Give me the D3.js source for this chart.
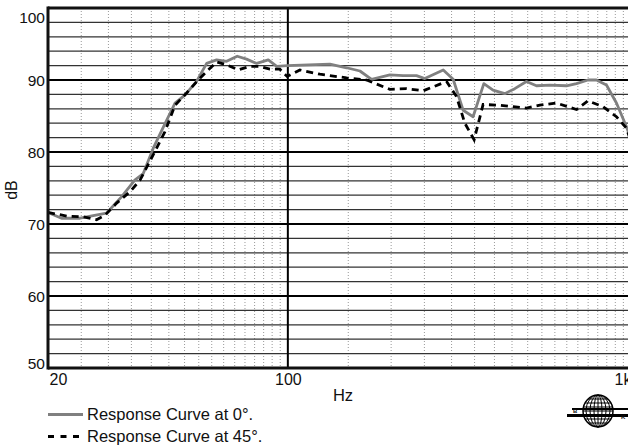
<!DOCTYPE html>
<html>
<head>
<meta charset="utf-8">
<script src="https://cdn.jsdelivr.net/npm/d3@7"></script>
<style>
  body { margin: 0; background: #fff; }
  text { font-family: "Liberation Sans", Arial, sans-serif; fill: #111; }
</style>
</head>
<body>
<svg width="628" height="447"></svg>
<script>
// frequencies (Hz) and levels (dB)
let freq0 = [20, 21.9, 24.8, 29.6, 32.8, 35.8, 37.9, 40.5, 43.4, 46.9, 50.1, 54.2, 58, 62, 66.3, 71.2, 75.8, 81.1, 87.7, 92.8, 99.5,
             132.6, 148.3, 162.2, 175.4, 198.3, 216.8, 237.1, 250.7, 283.7, 303.2, 324.2, 346.6, 372.5, 396.3, 428.7, 458.4,
             495.8, 530.2, 579.9, 648.6, 693.6, 749.6, 793, 848.1, 907, 970, 1000]
let db0 = [71.6, 70.8, 70.8, 71.5, 73.8, 76.1, 77, 80.5, 83.5, 86.8, 87.9, 89.8, 92.3, 92.8, 92.6, 93.3, 92.9, 92.3, 92.8, 91.9, 92,
           92.2, 91.7, 91.25, 90.1, 90.7, 90.6, 90.6, 90.2, 91.4, 90.1, 85.8, 84.9, 89.5, 88.6, 88.1, 88.8,
           89.8, 89.2, 89.3, 89.2, 89.5, 90, 90, 89.3, 86.8, 83.5, 81.8]
let freq45 = [20, 22.7, 25.3, 27.7, 29.3, 31.7, 34.7, 37.1, 40.5, 43.8, 46.9, 50.7, 54.8, 58.6, 62, 66.3, 71.7, 77.5, 82.9, 88.6, 94.8, 99.5,
              108.4, 124, 148.3, 169.7, 198.3, 221.8, 248, 290.1, 310.1, 327.9, 349, 370.7, 414.6, 453.3, 495.8, 542.4, 606.6,
              693.6, 749.6, 829, 907, 970, 1000]
let db45 = [71.6, 71.1, 71, 70.6, 71.2, 72.9, 74.5, 76.1, 79.6, 82.8, 86.5, 88.2, 90, 91.4, 92.5, 92.1, 91.4, 91.9, 91.9, 91.5, 91.5, 90.5,
            91.4, 90.8, 90.3, 90, 88.7, 88.8, 88.5, 89.8, 87.7, 84, 81.7, 86.6, 86.5, 86.3, 86.1, 86.5, 86.8,
            85.9, 87.1, 86.3, 84.9, 83.3, 81.4]
let yTicks = [50, 60, 70, 80, 90, 100]
let xTicks = [20, 100, 1000]
let xTickLabels = ['20', '100', '1k']
let legendLabels = ['Response Curve at 0°.', 'Response Curve at 45°.']

let svg = d3.select('svg')
let plotLeft = 48, plotRight = 631, plotTop = 8, plotBottom = 368

let xScale = d3.scaleLog().domain([20, 1000]).range([plotLeft, plotRight]),
    yScale = d3.scaleLinear().domain([50, 100]).range([plotBottom, plotTop])

// minor vertical grid (dotted)
let minorX = d3.range(25, 100, 5).concat(d3.range(150, 1000, 50))
svg.append('g').selectAll('line')
    .data(minorX)
    .enter()
    .append('line')
    .attr('x1', d => xScale(d)).attr('x2', d => xScale(d))
    .attr('y1', plotTop).attr('y2', plotBottom)
    .attr('stroke', '#999')
    .attr('stroke-width', 1)
    .attr('stroke-dasharray', '1,2')

// horizontal grid every 2 dB, bold every 10
let minorY = d3.range(52, 100, 2).filter(d => d % 10 != 0)
svg.append('g').selectAll('line')
    .data(minorY)
    .enter()
    .append('line')
    .attr('x1', plotLeft).attr('x2', 628)
    .attr('y1', d => yScale(d)).attr('y2', d => yScale(d))
    .attr('stroke', '#333')
    .attr('stroke-width', 1.2)
svg.append('g').selectAll('line')
    .data([60, 70, 80, 90])
    .enter()
    .append('line')
    .attr('x1', plotLeft).attr('x2', 628)
    .attr('y1', d => yScale(d)).attr('y2', d => yScale(d))
    .attr('stroke', '#000')
    .attr('stroke-width', 2)
// bold vertical at 100 Hz
svg.append('line')
    .attr('x1', xScale(100)).attr('x2', xScale(100))
    .attr('y1', plotTop).attr('y2', plotBottom)
    .attr('stroke', '#000')
    .attr('stroke-width', 2)

// curves
let line = d3.line().x(d => xScale(d[0])).y(d => yScale(d[1]))
svg.append('path')
    .datum(d3.zip(freq0, db0))
    .attr('d', line)
    .attr('fill', 'none')
    .attr('stroke', '#808080')
    .attr('stroke-width', 2.8)
    .attr('stroke-linejoin', 'round')
svg.append('path')
    .datum(d3.zip(freq45, db45))
    .attr('d', line)
    .attr('fill', 'none')
    .attr('stroke', '#000')
    .attr('stroke-width', 2.8)
    .attr('stroke-dasharray', '7,5')

// frame
svg.append('line').attr('x1', plotLeft).attr('x2', 628).attr('y1', plotTop).attr('y2', plotTop)
    .attr('stroke', '#111').attr('stroke-width', 3)
svg.append('line').attr('x1', plotLeft).attr('x2', 628).attr('y1', plotBottom).attr('y2', plotBottom)
    .attr('stroke', '#111').attr('stroke-width', 3)
svg.append('line').attr('x1', plotLeft).attr('x2', plotLeft).attr('y1', plotTop - 1.5).attr('y2', plotBottom + 1.5)
    .attr('stroke', '#111').attr('stroke-width', 3)

// y axis labels
let yAxis = svg.append('g')
    .attr('transform', 'translate(' + plotLeft + ',0)')
    .call(d3.axisLeft(yScale).tickValues(yTicks).tickSize(0).tickPadding(3).tickFormat(d3.format('d')))
yAxis.select('.domain').remove()
yAxis.selectAll('text')
    .attr('font-size', 15.5)
    .attr('font-family', '"Liberation Sans", Arial, sans-serif')
    .attr('fill', '#111')
    .attr('dy', d => d == 100 ? '0.95em' : d == 50 ? '0.05em' : '0.35em')
svg.append('text')
    .attr('transform', 'translate(17,190) rotate(-90)')
    .attr('text-anchor', 'middle')
    .attr('font-size', 16)
    .text('dB')

// x axis labels
let xAxis = svg.append('g')
    .attr('transform', 'translate(0,' + plotBottom + ')')
    .call(d3.axisBottom(xScale).tickValues(xTicks).tickSize(0).tickPadding(6)
        .tickFormat((d, i) => xTickLabels[i]))
xAxis.select('.domain').remove()
xAxis.selectAll('text')
    .attr('font-size', 16)
    .attr('font-family', '"Liberation Sans", Arial, sans-serif')
    .attr('fill', '#111')
    .attr('text-anchor', (d, i) => i == 0 ? 'start' : i == 2 ? 'end' : 'middle')
    .attr('dx', (d, i) => i == 0 ? 1 : 0)
svg.append('text')
    .attr('x', 343).attr('y', 401)
    .attr('text-anchor', 'middle')
    .attr('font-size', 16.5)
    .text('Hz')

// legend
let legend = svg.append('g')
legend.append('line')
    .attr('x1', 48).attr('x2', 83).attr('y1', 414.5).attr('y2', 414.5)
    .attr('stroke', '#808080').attr('stroke-width', 3)
legend.append('line')
    .attr('x1', 48).attr('x2', 83).attr('y1', 436.5).attr('y2', 436.5)
    .attr('stroke', '#000').attr('stroke-width', 3)
    .attr('stroke-dasharray', '6,6.5')
legend.selectAll('text')
    .data(legendLabels)
    .enter()
    .append('text')
    .attr('x', 87)
    .attr('y', (d, i) => 420 + i * 22)
    .attr('font-size', 16.5)
    .text(d => d)

// logo (globe with bars)
let logo = svg.append('g').attr('transform', 'translate(598,411)')
logo.append('ellipse').attr('rx', 15).attr('ry', 16)
    .attr('fill', 'none').attr('stroke', '#000').attr('stroke-width', 1.5)
;[4, 8, 12].forEach(r => {
    logo.append('ellipse').attr('rx', r).attr('ry', 16)
        .attr('fill', 'none').attr('stroke', '#000').attr('stroke-width', 1)
})
logo.append('line').attr('x1', 0).attr('x2', 0).attr('y1', -16).attr('y2', 16)
    .attr('stroke', '#000').attr('stroke-width', 1)
;[-12, -8, -4, 0, 4, 8, 12].forEach(y => {
    let w = 15 * Math.sqrt(1 - (y / 16) * (y / 16))
    logo.append('line').attr('x1', -w).attr('x2', w).attr('y1', y).attr('y2', y)
        .attr('stroke', '#000').attr('stroke-width', 1)
})
logo.append('rect').attr('x', -26).attr('y', -3).attr('width', 56).attr('height', 2).attr('fill', '#000')
logo.append('rect').attr('x', -31).attr('y', 3).attr('width', 61).attr('height', 3).attr('fill', '#000')
logo.append('text').attr('x', -25).attr('y', 1.5).attr('font-size', 6).attr('font-weight', 'bold').text('B')
logo.append('text').attr('x', 23).attr('y', 8).attr('font-size', 6).attr('font-weight', 'bold').text('K')
</script>
</body>
</html>
